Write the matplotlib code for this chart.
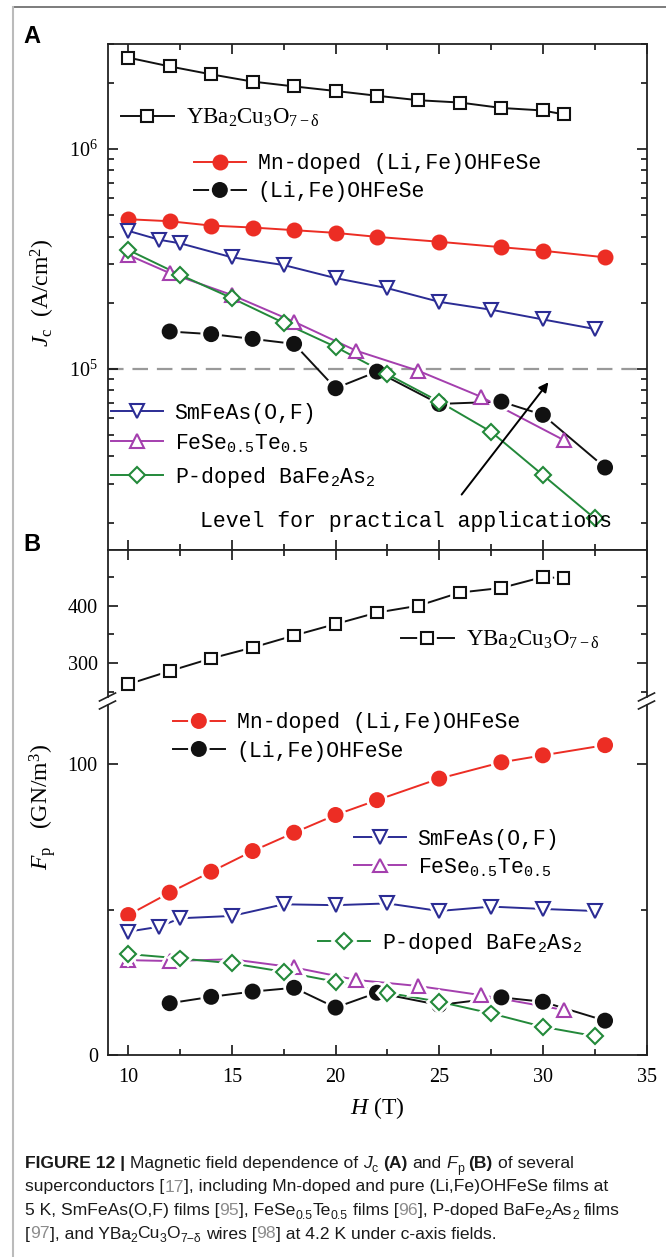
import matplotlib
matplotlib.use("Agg")
import matplotlib.pyplot as plt
import matplotlib.patheffects as pe
from matplotlib.lines import Line2D
from matplotlib.ticker import FixedLocator, MultipleLocator, NullFormatter

plt.rcParams["font.family"] = "Liberation Serif"
plt.rcParams["mathtext.fontset"] = "custom"
plt.rcParams["mathtext.rm"] = "Liberation Serif"
plt.rcParams["mathtext.it"] = "Liberation Serif:italic"
plt.rcParams["mathtext.bf"] = "Liberation Serif:bold"
plt.rcParams["mathtext.tt"] = "Liberation Mono"

# ---------------- data ----------------
H_ybco = [10, 12, 14, 16, 18, 20, 22, 24, 26, 28, 30, 31]
jc_ybco = [2.61e6, 2.38e6, 2.19e6, 2.03e6, 1.93e6, 1.84e6, 1.75e6, 1.67e6, 1.63e6, 1.54e6, 1.50e6, 1.44e6]
fp_ybco = [263, 286, 308, 327, 348, 368, 388, 400, 423, 431, 450, 448]

H_mn = [10, 12, 14, 16, 18, 20, 22, 25, 28, 30, 33]
jc_mn = [4.80e5, 4.70e5, 4.49e5, 4.40e5, 4.28e5, 4.16e5, 3.99e5, 3.79e5, 3.58e5, 3.45e5, 3.22e5]
fp_mn = [48.1, 55.8, 63.0, 70.1, 76.4, 82.5, 87.6, 95.0, 100.6, 103.0, 106.5]

H_li = [12, 14, 16, 18, 20, 22, 25, 28, 30, 33]
jc_li = [1.48e5, 1.44e5, 1.37e5, 1.30e5, 8.17e4, 9.72e4, 6.93e4, 7.10e4, 6.18e4, 3.56e4]
fp_li = [17.8, 20.0, 21.8, 23.1, 16.3, 21.4, 17.2, 19.8, 18.3, 11.8]

H_sm = [10, 11.5, 12.5, 15, 17.5, 20, 22.5, 25, 27.5, 30, 32.5]
jc_sm = [4.25e5, 3.87e5, 3.73e5, 3.22e5, 2.97e5, 2.59e5, 2.33e5, 2.02e5, 1.86e5, 1.68e5, 1.52e5]
fp_sm = [42.4, 44.1, 47.0, 47.8, 51.8, 51.5, 52.1, 49.5, 51.0, 50.2, 49.5]

H_fese = [10, 12, 15, 18, 21, 24, 27, 31]
jc_fese = [3.30e5, 2.73e5, 2.17e5, 1.64e5, 1.21e5, 9.8e4, 7.48e4, 4.75e4]
fp_fese = [32.6, 32.3, 32.9, 30.1, 25.8, 23.7, 20.6, 15.5]

H_ba = [10, 12.5, 15, 17.5, 20, 22.5, 25, 27.5, 30, 32.5]
jc_ba = [3.48e5, 2.68e5, 2.10e5, 1.62e5, 1.26e5, 9.46e4, 7.10e4, 5.18e4, 3.29e4, 2.09e4]
fp_ba = [34.7, 33.2, 31.5, 28.6, 25.2, 21.4, 18.3, 14.3, 9.7, 6.5]

jc_practical = 1e5

lab_ybco = r"$\mathrm{YBa_2Cu_3O_{7-\delta}}$"
lab_mn = "Mn-doped (Li,Fe)OHFeSe"
lab_li = "(Li,Fe)OHFeSe"
lab_sm = "SmFeAs(O,F)"
lab_fese = r"FeSe$_{\mathtt{0.5}}$Te$_{\mathtt{0.5}}$"
lab_ba = r"P-doped BaFe$_{\mathtt{2}}$As$_{\mathtt{2}}$"

RED, BLUE, MAG, GRN, BLK = "#ec2d24", "#2b2c94", "#a43fae", "#23893a", "#111111"

# ---------------- layout (pixels, top-left origin) ----------------
W, HP = 666, 1257
L, R = 107.5, 646.5
fig = plt.figure(figsize=(W / 100, HP / 100), dpi=100)


def box(top, bottom):
    return [L / W, 1 - bottom / HP, (R - L) / W, (bottom - top) / HP]


axA = fig.add_axes(box(44, 550))
axB1 = fig.add_axes(box(550, 697))
axB2 = fig.add_axes(box(705, 1055))

MONO = dict(family="Liberation Mono", size=15.5)
SERIF = dict(family="Liberation Serif", size=16.5)
halo = [pe.Stroke(linewidth=5.5, foreground="white"), pe.Normal()]


def series(ax, x, y, color, marker, ms, filled, gap):
    ln, = ax.plot(x, y, "-", color=color, lw=1.4, zorder=2)
    mk, = ax.plot(x, y, ls="none", marker=marker, ms=ms, mew=1.5,
                  mec=color, mfc=color if filled else "white", zorder=3)
    if gap:
        mk.set_path_effects(halo)
    return (ln, mk)


def leg(handle, label, x, y, prop, hl):
    fig.legend([handle], [label], loc="center left",
               bbox_to_anchor=(x / W, 1 - y / HP), frameon=False,
               borderpad=0, borderaxespad=0, handlelength=hl,
               handletextpad=0.55, prop=prop)


# ---------------- panel A ----------------
h = series(axA, H_ybco, jc_ybco, BLK, "s", 8.5, False, False)
leg(h, lab_ybco, 121, 118, SERIF, 2.3)
h = series(axA, H_mn, jc_mn, RED, "o", 10, True, False)
leg(h, lab_mn, 194, 164, MONO, 2.4)
h = series(axA, H_li, jc_li, BLK, "o", 10, True, True)
leg(h, lab_li, 194, 192, MONO, 2.4)
h = series(axA, H_sm, jc_sm, BLUE, "v", 10, False, False)
leg(h, lab_sm, 111, 413, MONO, 2.4)
h = series(axA, H_fese, jc_fese, MAG, "^", 10, False, False)
leg(h, lab_fese, 111, 443, MONO, 2.4)
h = series(axA, H_ba, jc_ba, GRN, "D", 8, False, False)
leg(h, lab_ba, 111, 477, MONO, 2.4)

axA.axhline(jc_practical, color="#999999", lw=1.6, dashes=(7, 4), zorder=1)
axA.annotate("", xy=(30.35, 8.9e4), xytext=(26.0, 2.62e4),
             arrowprops=dict(arrowstyle="-|>", color="black", lw=1.4, mutation_scale=14))
axA.text(13.44, 2.02e4, "Level for practical applications", va="center", ha="left",
         fontdict=MONO)
axA.set_yscale("log")
axA.set_ylim(1.5e4, 3.01e6)
axA.yaxis.set_minor_formatter(NullFormatter())

# ---------------- panel B ----------------
h = series(axB1, H_ybco, fp_ybco, BLK, "s", 8.5, False, True)
leg(h, lab_ybco, 401, 640, SERIF, 2.3)
h = series(axB2, H_mn, fp_mn, RED, "o", 10, True, True)
leg(h, lab_mn, 173, 723, MONO, 2.4)
h = series(axB2, H_li, fp_li, BLK, "o", 10, True, True)
leg(h, lab_li, 173, 751, MONO, 2.4)
h = series(axB2, H_sm, fp_sm, BLUE, "v", 10, False, True)
leg(h, lab_sm, 354, 839, MONO, 2.4)
h = series(axB2, H_fese, fp_fese, MAG, "^", 10, False, True)
leg(h, lab_fese, 354, 867, MONO, 2.4)
h = series(axB2, H_ba, fp_ba, GRN, "D", 8, False, True)
leg(h, lab_ba, 318, 943, MONO, 2.4)

axB1.set_ylim(240.7, 497.2)
axB1.yaxis.set_major_locator(FixedLocator([300, 400]))
axB1.yaxis.set_minor_locator(FixedLocator([250, 350, 450]))
axB2.set_ylim(0, 120.3)
axB2.yaxis.set_major_locator(FixedLocator([0, 100]))
axB2.yaxis.set_minor_locator(FixedLocator([50]))

# ---------------- axes styling ----------------
for ax in (axA, axB1, axB2):
    ax.set_xlim(9, 35)
    ax.xaxis.set_major_locator(MultipleLocator(5))
    ax.xaxis.set_minor_locator(MultipleLocator(2.5))
    ax.tick_params(which="both", direction="in", width=1.1, labelsize=14.5,
                   left=True, right=True, top=True, bottom=True, pad=7)
    ax.tick_params(which="major", length=7)
    ax.tick_params(which="minor", length=4)
    for s in ax.spines.values():
        s.set_linewidth(1.3)
        s.set_color("#222222")

axA.tick_params(axis="x", labelbottom=False)
axB1.spines["bottom"].set_visible(False)
axB1.tick_params(axis="x", which="both", bottom=False, labelbottom=False)
axB2.spines["top"].set_visible(False)
axB2.tick_params(axis="x", which="both", top=False)
axB2.tick_params(axis="x", pad=9)

# break marks
for cy in (697, 705):
    for cx in (L, R):
        fig.add_artist(Line2D([(cx - 8) / W, (cx + 8) / W],
                              [1 - (cy + 4) / HP, 1 - (cy - 4) / HP],
                              color="#222222", lw=1.2, transform=fig.transFigure))

# axis labels
fig.text(43 / W, 1 - 293 / HP, r"$J_\mathrm{c}$  (A/cm$^2$)", rotation=90,
         ha="center", va="center", fontsize=17)
fig.text(43 / W, 1 - 807 / HP, r"$F_\mathrm{p}$   (GN/m$^3$)", rotation=90,
         ha="center", va="center", fontsize=17)
fig.text(377 / W, 1 - 1108 / HP, r"$H$ (T)", ha="center", va="center", fontsize=17)

# panel letters
fig.text(23 / W, 1 - 43 / HP, "A", family="Liberation Sans", weight="bold", fontsize=17)
fig.text(23 / W, 1 - 551 / HP, "B", family="Liberation Sans", weight="bold", fontsize=17)

# page frame
fig.add_artist(Line2D([13 / W, 1], [1 - 7 / HP, 1 - 7 / HP], color="#666666", lw=1.2,
                      transform=fig.transFigure))
fig.add_artist(Line2D([13 / W, 13 / W], [0, 1 - 7 / HP], color="#bbbbbb", lw=1.5,
                      transform=fig.transFigure))

# ---------------- caption ----------------
CAP = 12.6
rend = fig.canvas.get_renderer()


def width(t):
    return t.get_window_extent(renderer=rend).width


def style_of(k):
    d = dict(family="Liberation Sans", fontsize=CAP, color="#1a1a1a")
    if "b" in k:
        d["weight"] = "bold"
    if "i" in k:
        d["style"] = "italic"
    if "g" in k:
        d["color"] = "#8c8c8c"
    if "s" in k:
        d["fontsize"] = CAP * 0.7
    return d


probe1 = fig.text(0, 0, "a a", **style_of(""))
probe2 = fig.text(0, 0, "aa", **style_of(""))
SPACE = width(probe1) - width(probe2)
probe1.remove()
probe2.remove()


def rich_line(y, chunks, x=25):
    for s, k in chunks:
        x += SPACE * (len(s) - len(s.lstrip(" ")))
        body = s.strip(" ")
        if body:
            dy = 4 if "s" in k else 0
            t = fig.text(x / W, 1 - (y + dy) / HP, body, va="baseline", **style_of(k))
            x += width(t)
            x += SPACE * (len(s) - len(s.rstrip(" ")))


rich_line(1168, [("FIGURE 12 |", "b"), (" Magnetic field dependence of ", ""), ("J", "i"),
                 ("c", "s"), (" ", ""), ("(A)", "b"), (" and ", ""), ("F", "i"), ("p", "s"),
                 (" ", ""), ("(B)", "b"), (" of several", "")])
rich_line(1191.5, [("superconductors [", ""), ("17", "g"),
                   ("], including Mn-doped and pure (Li,Fe)OHFeSe films at", "")])
rich_line(1215, [("5 K, SmFeAs(O,F) films [", ""), ("95", "g"), ("], FeSe", ""), ("0.5", "s"),
                 ("Te", ""), ("0.5", "s"), (" films [", ""), ("96", "g"), ("], P-doped BaFe", ""),
                 ("2", "s"), ("As", ""), ("2", "s"), (" films", "")])
rich_line(1238.5, [("[", ""), ("97", "g"), ("], and YBa", ""), ("2", "s"), ("Cu", ""), ("3", "s"),
                   ("O", ""), ("7\u2212\u03b4", "s"), (" wires [", ""), ("98", "g"),
                   ("] at 4.2 K under c-axis fields.", "")])

fig.savefig("out.png", dpi=100)
